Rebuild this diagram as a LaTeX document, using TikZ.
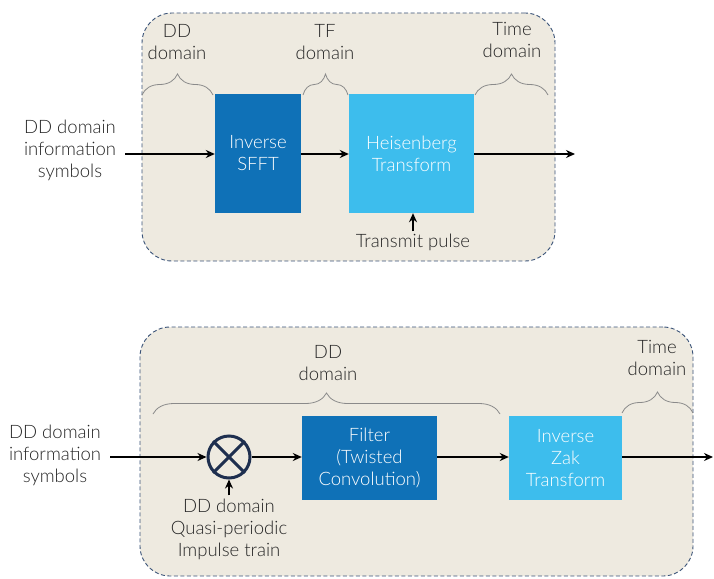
\documentclass[tikz,border=0pt]{standalone}
\usepackage{fontspec}
\setmainfont{Lato Light}
\usetikzlibrary{arrows.meta,decorations.pathreplacing}
\definecolor{panelfill}{HTML}{EEEAE0}
\definecolor{paneledge}{HTML}{3A5378}
\definecolor{darkblock}{HTML}{0F71B7}
\definecolor{lightblock}{HTML}{3DBDED}
\definecolor{mixring}{HTML}{1E2F4F}
\definecolor{bracegray}{HTML}{8A8A8A}
\tikzset{
  panel/.style={draw=paneledge, fill=panelfill, line width=0.9pt,
    dash pattern=on 4pt off 2.5pt, rounded corners=30pt, inner sep=0pt},
  blockdark/.style={fill=darkblock, text=white, align=center, inner sep=0pt,
    font=\fontsize{18.5}{22}\selectfont},
  blocklight/.style={fill=lightblock, text=white, align=center, inner sep=0pt,
    font=\fontsize{18.5}{22}\selectfont},
  lbl/.style={align=center, inner sep=0pt, text=black!85,
    font=\fontsize{18.5}{22}\selectfont},
  flow/.style={line width=1.8pt, -{Stealth[length=9pt,width=8pt]}},
  span/.style={draw=bracegray, line width=0.8pt,
    decorate, decoration={brace, amplitude=21pt}},
}
\begin{document}
\begin{tikzpicture}[x=1pt, y=-1pt]
  \useasboundingbox (0,0) rectangle (714,578);

  % ---------- upper chain: inverse SFFT + Heisenberg transform ----------
  \node[panel, minimum width=413pt, minimum height=248pt] (p1) at (348.5,137) {};
  \node[blockdark, minimum width=86pt, minimum height=119pt] (sfft) at (258,153.5) {Inverse\\SFFT};
  \node[blocklight, minimum width=125pt, minimum height=119pt] (heis) at (411.5,153.5) {Heisenberg\\Transform};
  \node[lbl] (in1) at (70,150) {DD domain\\information\\symbols};
  \coordinate (in1e) at (125,154);
  \coordinate (out1) at (575,154);
  \node[lbl] (pulse) at (413,242) {Transmit pulse};

  \draw[flow] (in1e) -- (sfft.west |- in1e);
  \draw[flow] (sfft.east |- in1e) -- (heis.west |- in1e);
  \draw[flow] (heis.east |- in1e) -- (out1);
  \draw[flow] (pulse.north) ++(0,-2) -- (heis.south -| pulse.north);

  % domain spans above the upper chain
  \coordinate (b1a) at (142,95);  \coordinate (b1b) at (213,95);
  \coordinate (b2a) at (303,95);  \coordinate (b2b) at (348,95);
  \coordinate (b3a) at (475,95);  \coordinate (b3b) at (548,95);
  \draw[span] (b1a) -- (b1b);
  \draw[span] (b2a) -- (b2b);
  \draw[span] (b3a) -- (b3b);
  \node[lbl] (t1) at (177,42) {DD\\domain};
  \node[lbl] (t2) at (325,42) {TF\\domain};
  \node[lbl] (t3) at (512,40) {Time\\domain};

  % ---------- lower chain: multiplier, filter, inverse Zak transform ----------
  \node[panel, minimum width=553pt, minimum height=249pt] (p2) at (416.5,451.5) {};
  \node[circle, draw=mixring, line width=3pt, minimum size=42pt, inner sep=0pt] (mix) at (229,457) {};
  \draw[mixring, line width=3pt] (mix.north west) -- (mix.south east)
    (mix.north east) -- (mix.south west);
  \node[blockdark, minimum width=135pt, minimum height=84pt] (filt) at (369.5,458) {Filter\\(Twisted\\Convolution)};
  \node[blocklight, minimum width=113pt, minimum height=84pt] (zak) at (565.5,458) {Inverse\\Zak\\Transform};
  \node[lbl] (in2) at (55,455) {DD domain\\information\\symbols};
  \coordinate (in2e) at (110,457);
  \coordinate (out2) at (713,457);
  \node[lbl] (train) at (229,529) {DD domain\\Quasi-periodic\\Impulse train};

  \draw[flow] (in2e) -- (mix.west);
  \draw[flow] (mix.east) -- (filt.west |- mix.east);
  \draw[flow] (filt.east |- mix.east) -- (zak.west |- mix.east);
  \draw[flow] (zak.east |- mix.east) -- (out2);
  \draw[flow] (train.north) ++(0,-3) -- (mix.south);

  % domain spans above the lower chain
  \coordinate (b4a) at (153,414); \coordinate (b4b) at (500,414);
  \coordinate (b5a) at (622,413); \coordinate (b5b) at (693,413);
  \draw[span] (b4a) -- (b4b);
  \draw[span] (b5a) -- (b5b);
  \node[lbl] (t4) at (328,363) {DD\\domain};
  \node[lbl] (t5) at (657,358) {Time\\domain};
\end{tikzpicture}
\end{document}
